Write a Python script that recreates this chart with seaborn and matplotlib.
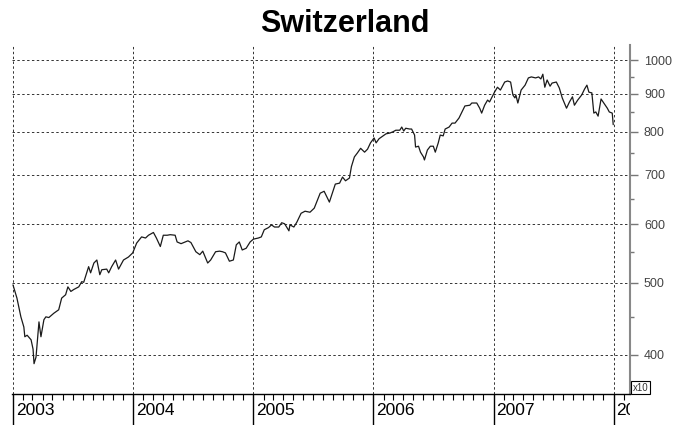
import pandas as pd
import matplotlib
matplotlib.use('Agg')
import matplotlib.pyplot as plt
import matplotlib.dates as mdates
from matplotlib.ticker import FixedLocator, NullFormatter, FuncFormatter
from matplotlib.transforms import ScaledTranslation, Bbox, TransformedBbox
import seaborn as sns

# index level (log scale), roughly weekly / bi-weekly
dates = [
    # 2003
    "2003-01-01", "2003-01-13", "2003-01-25", "2003-02-03", "2003-02-06", "2003-02-13",
    "2003-02-25", "2003-03-03", "2003-03-06", "2003-03-12", "2003-03-21", "2003-03-27",
    "2003-04-05", "2003-04-11", "2003-04-20", "2003-05-05", "2003-05-20", "2003-05-29",
    "2003-06-10", "2003-06-17", "2003-06-26", "2003-07-05", "2003-07-20", "2003-07-29",
    "2003-08-04", "2003-08-13", "2003-08-19", "2003-08-25", "2003-09-04", "2003-09-13",
    "2003-09-22", "2003-09-28", "2003-10-13", "2003-10-19", "2003-10-28", "2003-11-09",
    "2003-11-18", "2003-12-03", "2003-12-18", "2003-12-31",
    # 2004
    "2004-01-12", "2004-01-27", "2004-02-08", "2004-02-17", "2004-03-03", "2004-03-12",
    "2004-03-24", "2004-04-02", "2004-04-14", "2004-04-23", "2004-05-08", "2004-05-14",
    "2004-05-26", "2004-06-16", "2004-06-25", "2004-07-10", "2004-07-22", "2004-07-31",
    "2004-08-15", "2004-08-24", "2004-09-08", "2004-09-20", "2004-09-29", "2004-10-08",
    "2004-10-20", "2004-11-01", "2004-11-10", "2004-11-19", "2004-11-28", "2004-12-10",
    "2004-12-22",
    # 2005
    "2005-01-01", "2005-01-16", "2005-01-25", "2005-02-03", "2005-02-16", "2005-02-25",
    "2005-03-06", "2005-03-19", "2005-03-28", "2005-04-06", "2005-04-19", "2005-04-22",
    "2005-05-04", "2005-05-13", "2005-05-26", "2005-06-07", "2005-06-22", "2005-07-05",
    "2005-07-11", "2005-07-23", "2005-08-04", "2005-08-20", "2005-08-29", "2005-09-07",
    "2005-09-20", "2005-09-29", "2005-10-08", "2005-10-20", "2005-10-26", "2005-11-04",
    "2005-11-13", "2005-11-23", "2005-12-05", "2005-12-14", "2005-12-23",
    # 2006
    "2006-01-03", "2006-01-09", "2006-01-18", "2006-01-30", "2006-02-08", "2006-02-20",
    "2006-03-01", "2006-03-10", "2006-03-22", "2006-03-28", "2006-04-03", "2006-04-09",
    "2006-04-21", "2006-04-27", "2006-05-06", "2006-05-09", "2006-05-18", "2006-05-24",
    "2006-06-02", "2006-06-05", "2006-06-14", "2006-06-23", "2006-07-02", "2006-07-08",
    "2006-07-17", "2006-07-23", "2006-08-01", "2006-08-07", "2006-08-19", "2006-08-28",
    "2006-09-06", "2006-09-18", "2006-09-27", "2006-10-06", "2006-10-21", "2006-10-27",
    "2006-11-11", "2006-11-20", "2006-11-26", "2006-12-05", "2006-12-14", "2006-12-20",
    # 2007
    "2007-01-04", "2007-01-13", "2007-01-22", "2007-02-04", "2007-02-13", "2007-02-22",
    "2007-03-01", "2007-03-07", "2007-03-10", "2007-03-16", "2007-03-26", "2007-04-07",
    "2007-04-17", "2007-04-26", "2007-05-09", "2007-05-18", "2007-05-25", "2007-05-31",
    "2007-06-06", "2007-06-13", "2007-06-22", "2007-06-28", "2007-07-11", "2007-07-20",
    "2007-07-29", "2007-08-11", "2007-08-20", "2007-08-29", "2007-09-04", "2007-09-14",
    "2007-09-26", "2007-10-05", "2007-10-12", "2007-10-18", "2007-10-27", "2007-11-02",
    "2007-11-08", "2007-11-15", "2007-11-24", "2007-11-30", "2007-12-13", "2007-12-19",
    "2007-12-28", "2007-12-31",
]

levels = [
    # 2003
    497, 477, 450, 436, 423, 425,
    419, 407, 389, 397, 443, 423,
    446, 450, 449, 455, 460, 477,
    482, 494, 487, 490, 494, 502,
    501, 516, 526, 516, 532, 537,
    513, 521, 522, 516, 526, 537,
    522, 537, 542, 549,
    # 2004
    566, 577, 575, 580, 585, 575,
    560, 580, 580, 581, 580, 568,
    565, 570, 567, 551, 546, 552,
    532, 537, 551, 552, 551, 549,
    535, 537, 563, 568, 554, 557,
    568,
    # 2005
    573, 575, 577, 590, 594, 599,
    595, 595, 603, 601, 588, 599,
    595, 604, 621, 625, 623, 631,
    641, 661, 665, 643, 661, 680,
    682, 695, 687, 693, 718, 740,
    749, 760, 751, 758, 773,
    # 2006
    785, 773, 783, 790, 795, 797,
    800, 804, 804, 812, 802, 809,
    807, 807, 792, 763, 765, 751,
    740, 733, 756, 765, 765, 751,
    773, 792, 790, 807, 812, 822,
    822, 835, 851, 867, 869, 875,
    875, 861, 848, 869, 883, 878,
    # 2007
    905, 919, 911, 934, 937, 934,
    897, 889, 897, 875, 911, 925,
    946, 949, 946, 949, 943, 957,
    919, 940, 922, 931, 934, 917,
    889, 861, 878, 892, 869, 883,
    897, 914, 925, 905, 903, 848,
    851, 840, 886, 878, 861, 851,
    848, 818,
]

y_major = [400, 500, 600, 700, 800, 900, 1000]
y_minor = [450, 550, 650, 750, 850, 950]
title = "Switzerland"

df = pd.DataFrame({'date': pd.to_datetime(dates), 'level': levels})

sns.set_style('white')
plt.rcParams['font.family'] = ['Liberation Sans', 'DejaVu Sans']

fig = plt.figure(figsize=(6.89, 4.25), dpi=100)
ax = fig.add_axes([12 / 689, 1 - 394 / 425, (630 - 12) / 689, (394 - 45) / 425])

sns.lineplot(data=df, x='date', y='level', ax=ax, color='#1a1a1a', linewidth=0.9)

ax.set_yscale('log')
ax.set_ylim(354, 1048)
ax.set_xlim(pd.Timestamp('2002-12-29'), pd.Timestamp('2008-02-20'))
ax.set_xlabel('')
ax.set_ylabel('')

# right hand log axis
ax.yaxis.tick_right()
ax.yaxis.set_major_locator(FixedLocator(y_major))
ax.yaxis.set_major_formatter(FuncFormatter(lambda v, p: f'{v:.0f}'))
ax.yaxis.set_minor_locator(FixedLocator(y_minor))
ax.yaxis.set_minor_formatter(NullFormatter())
ax.tick_params(axis='y', which='both', right=True, left=False)
ax.tick_params(axis='y', which='major', length=6, width=1, color='#777777',
               labelcolor='#444444', labelsize=9, pad=4)
ax.tick_params(axis='y', which='minor', length=3, width=1, color='#777777')

# years / months on the bottom
ax.xaxis.set_major_locator(mdates.YearLocator())
ax.xaxis.set_major_formatter(mdates.DateFormatter('%Y'))
ax.xaxis.set_minor_locator(mdates.MonthLocator())
ax.tick_params(axis='x', which='both', bottom=True, top=False)
ax.tick_params(axis='x', which='major', length=22, width=1, color='black',
               labelsize=12.5, pad=-15.5, labelcolor='black')
ax.tick_params(axis='x', which='minor', length=4.5, width=0.8, color='black')

shift = ScaledTranslation(3 / 100, 0, fig.dpi_scale_trans)
clip = TransformedBbox(Bbox.from_bounds(0, 0, 630 / 689, 1), fig.transFigure)
for lab in ax.get_xticklabels():
    lab.set_ha('left')
    lab.set_transform(lab.get_transform() + shift)
    lab.set_clip_on(True)
    lab.set_clip_box(clip)

ax.grid(True, which='major', axis='both', color='#333333',
        linestyle=(0, (2.5, 2.5)), linewidth=0.7)

ax.spines['top'].set_visible(False)
ax.spines['left'].set_visible(False)
ax.spines['right'].set_color('#888888')
ax.spines['right'].set_linewidth(1.5)
ax.spines['bottom'].set_color('black')
ax.spines['bottom'].set_linewidth(1)

ax.text(1.004, 0.004, 'x10', transform=ax.transAxes, fontsize=7, color='#333333',
        ha='left', va='bottom',
        bbox=dict(boxstyle='square,pad=0.15', fc='white', ec='black', lw=0.8))

fig.text(0.5, 1 - 24 / 425, title, ha='center', va='center', color='black',
         fontsize=22, fontweight='bold')

fig.savefig('out.png', dpi=100)
